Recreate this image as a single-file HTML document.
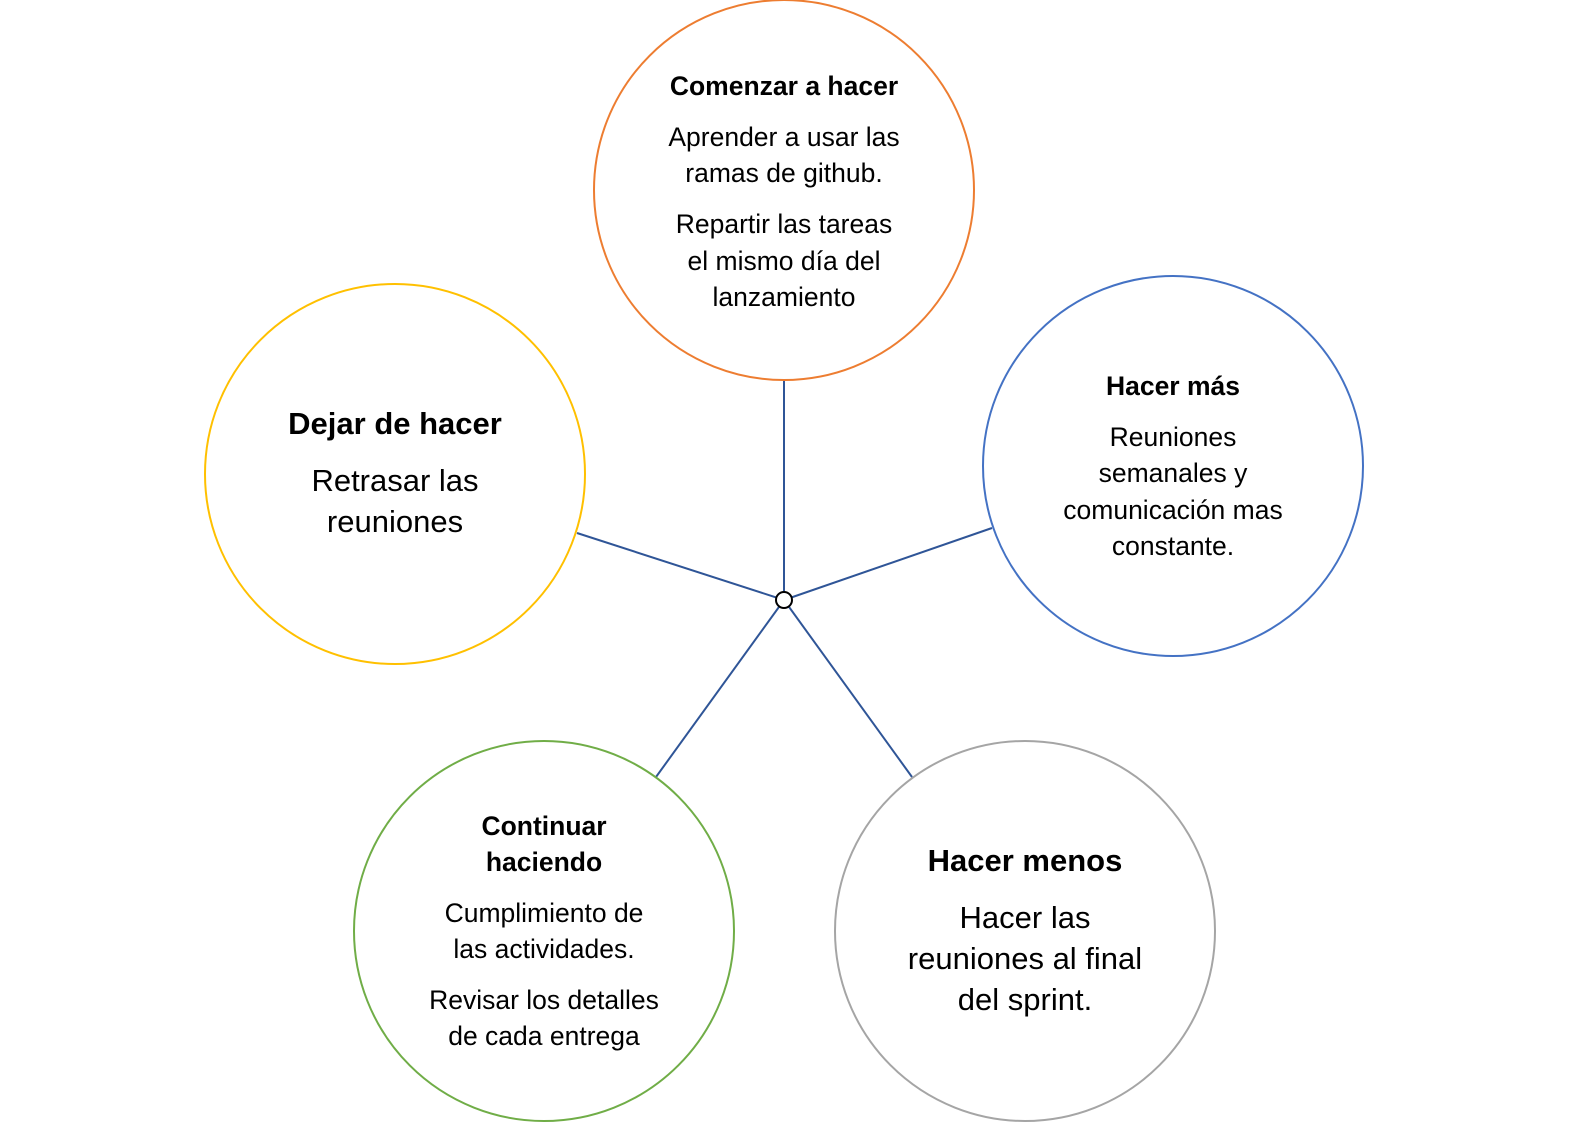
<!DOCTYPE html>
<html><head><meta charset="utf-8"><style>
html,body{margin:0;padding:0;background:#fff;}
svg{display:block;}
text{font-family:"Liberation Sans",sans-serif;fill:#000;text-anchor:middle;}
.b{font-weight:bold;}
</style></head><body>
<svg width="1571" height="1125" viewBox="0 0 1571 1125" xmlns="http://www.w3.org/2000/svg">
<g stroke="#2F5597" stroke-width="2">
<line x1="784" y1="600" x2="784" y2="381"/>
<line x1="784" y1="600" x2="577" y2="533"/>
<line x1="784" y1="600" x2="992" y2="528"/>
<line x1="784" y1="600" x2="656" y2="777"/>
<line x1="784" y1="600" x2="912" y2="777"/>
</g>
<circle cx="784" cy="600" r="8" fill="#fff" stroke="#000" stroke-width="2"/>
<circle cx="784" cy="190" r="190" fill="none" stroke="#ED7D31" stroke-width="2"/>
<circle cx="395" cy="474" r="190" fill="none" stroke="#FFC000" stroke-width="2"/>
<circle cx="1173" cy="466" r="190" fill="none" stroke="#4472C4" stroke-width="2"/>
<circle cx="544" cy="931" r="190" fill="none" stroke="#70AD47" stroke-width="2"/>
<circle cx="1025" cy="931" r="190" fill="none" stroke="#A5A5A5" stroke-width="2"/>

<g font-size="26.5">
<text x="784" y="95" class="b">Comenzar a hacer</text>
<text x="784" y="146">Aprender a usar las</text>
<text x="784" y="182">ramas de github.</text>
<text x="784" y="233">Repartir las tareas</text>
<text x="784" y="270">el mismo día del</text>
<text x="784" y="306">lanzamiento</text>

<text x="1173" y="395" class="b">Hacer más</text>
<text x="1173" y="446">Reuniones</text>
<text x="1173" y="482">semanales y</text>
<text x="1173" y="519">comunicación mas</text>
<text x="1173" y="555">constante.</text>

<text x="544" y="835" class="b">Continuar</text>
<text x="544" y="871" class="b">haciendo</text>
<text x="544" y="922">Cumplimiento de</text>
<text x="544" y="958">las actividades.</text>
<text x="544" y="1009">Revisar los detalles</text>
<text x="544" y="1045">de cada entrega</text>
</g>
<g font-size="31">
<text x="395" y="434" class="b">Dejar de hacer</text>
<text x="395" y="491">Retrasar las</text>
<text x="395" y="532">reuniones</text>

<text x="1025" y="871" class="b">Hacer menos</text>
<text x="1025" y="928">Hacer las</text>
<text x="1025" y="969">reuniones al final</text>
<text x="1025" y="1010">del sprint.</text>
</g>
</svg>
</body></html>
